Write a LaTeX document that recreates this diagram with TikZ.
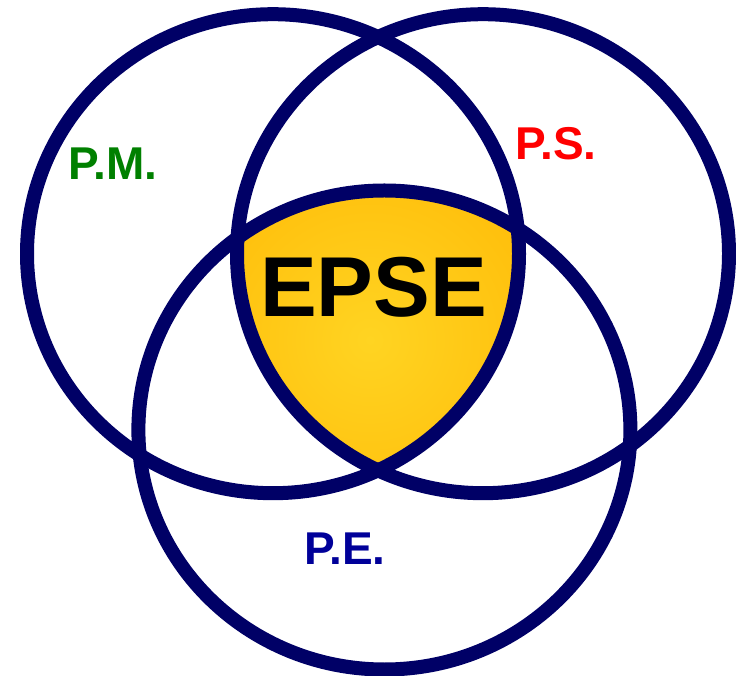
\documentclass[tikz,border=0pt]{standalone}
\usepackage{fontspec}
\setmainfont{Liberation Sans}
\definecolor{ringblue}{RGB}{0,0,102}
\definecolor{pmgreen}{RGB}{0,128,0}
\definecolor{psred}{RGB}{255,0,0}
\definecolor{peblue}{RGB}{0,0,153}
\definecolor{goldin}{RGB}{255,212,34}
\definecolor{goldout}{RGB}{255,180,0}
\begin{document}
\begin{tikzpicture}[x=1pt,y=1pt,
  ring/.style={draw=ringblue,line width=14pt},
  lbl/.style={font=\fontsize{46}{46}\selectfont\bfseries,anchor=base,inner sep=0pt},
  big/.style={font=\fontsize{85}{85}\selectfont\bfseries,anchor=base,inner sep=0pt}]
\useasboundingbox (0,0) rectangle (736,675);
\coordinate (cm) at (273,421.3);
\coordinate (cs) at (483,421.3);
\coordinate (ce) at (384.4,245);
\def\rx{246}
\def\ry{239.5}
\begin{scope}
  \clip (cm) ellipse [x radius=\rx, y radius=\ry];
  \clip (cs) ellipse [x radius=\rx, y radius=\ry];
  \clip (ce) ellipse [x radius=\rx, y radius=\ry];
  \shade[inner color=goldin,outer color=goldout] (370,335) ++(-280,-280) rectangle ++(560,560);
\end{scope}
\draw[ring] (cm) ellipse [x radius=\rx, y radius=\ry];
\draw[ring] (cs) ellipse [x radius=\rx, y radius=\ry];
\draw[ring] (ce) ellipse [x radius=\rx, y radius=\ry];
\node[big] (epse) at (373.5,358) {EPSE};
\node[lbl,text=pmgreen] (pm) at (113,495.3) {P.M.};
\node[lbl,text=psred] (ps) at (556,515) {P.S.};
\node[lbl,text=peblue] (pe) at (345,111) {P.E.};
\end{tikzpicture}
\end{document}
